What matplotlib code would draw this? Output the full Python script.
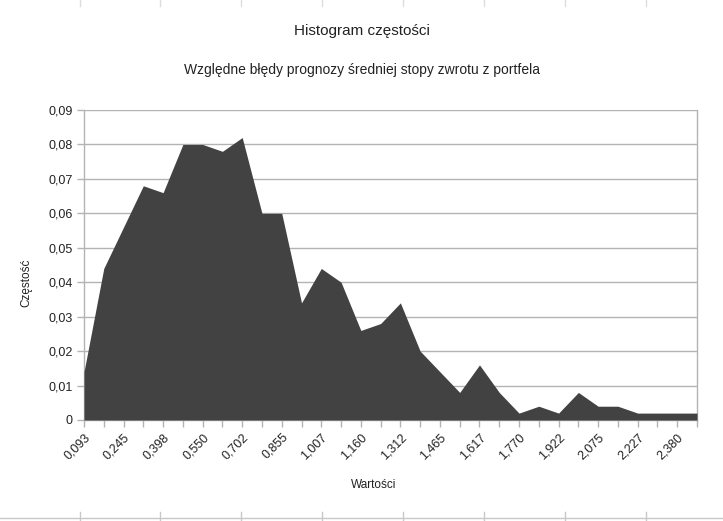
import numpy as np
import matplotlib.pyplot as plt
from matplotlib.lines import Line2D

plt.rcParams['font.family'] = ['Liberation Sans', 'DejaVu Sans']

# bin starts (every other one is labelled) and relative frequencies
bin_labels = ['0,093', '0,245', '0,398', '0,550', '0,702', '0,855', '1,007', '1,160',
              '1,312', '1,465', '1,617', '1,770', '1,922', '2,075', '2,227', '2,380']
freq = [0.014, 0.044, 0.056, 0.068, 0.066, 0.080, 0.080, 0.078,
        0.082, 0.060, 0.060, 0.034, 0.044, 0.040, 0.026, 0.028,
        0.034, 0.020, 0.014, 0.008, 0.016, 0.008, 0.002, 0.004,
        0.002, 0.008, 0.004, 0.004, 0.002, 0.002, 0.002, 0.002]
y_ticks = [0.0, 0.01, 0.02, 0.03, 0.04, 0.05, 0.06, 0.07, 0.08, 0.09]
y_tick_labels = ['0', '0,01', '0,02', '0,03', '0,04', '0,05', '0,06', '0,07', '0,08', '0,09']

grid_col = '#b3b3b3'
fill_col = '#424242'
text_col = '#222222'

fig = plt.figure(figsize=(7.23, 5.21), dpi=100)
ax = fig.add_axes([84 / 723, 101 / 521, 613 / 723, 310 / 521])

x = np.arange(len(freq))
ax.fill_between(x, freq, 0, color=fill_col, linewidth=0, zorder=3)

ax.set_xlim(0, len(freq) - 1)
ax.set_ylim(0, 0.09)

ax.set_yticks(y_ticks)
ax.set_yticklabels(y_tick_labels)
ax.grid(axis='y', color=grid_col, linewidth=1, zorder=0)

ax.set_xticks(x)
ax.set_xticklabels([bin_labels[i // 2] if i % 2 == 0 else '' for i in x],
                   rotation=45, ha='right', va='top', rotation_mode='anchor')

ax.tick_params(axis='both', direction='out', length=5, width=1, color=grid_col,
               labelsize=9, labelcolor=text_col, pad=3)

ax.spines['top'].set_visible(False)
for side in ['left', 'right', 'bottom']:
    ax.spines[side].set_color(grid_col)
    ax.spines[side].set_linewidth(1)

ax.set_xlabel('Wartości', fontsize=8.5, color=text_col)
ax.xaxis.set_label_coords((374 - 84) / 613, -(479 - 420) / 310)
ax.set_ylabel('Częstość', fontsize=8.5, color=text_col, va='center')
ax.yaxis.set_label_coords((26 - 84) / 613, (420 - 283) / 310)

fig.text(362 / 723, 1 - 31 / 521, 'Histogram częstości', ha='center', va='center',
         fontsize=11, color=text_col)
fig.text(362 / 723, 1 - 70 / 521, 'Względne błędy prognozy średniej stopy zwrotu z portfela',
         ha='center', va='center', fontsize=10, color=text_col)

# spreadsheet column marks along the edges
fig.add_artist(Line2D([0, 1], [3 / 521, 3 / 521], color='#c8c8c8', linewidth=1))
for px in [80, 160, 241, 322, 403, 484, 565, 646]:
    fig.add_artist(Line2D([px / 723, px / 723], [0, 9 / 521], color='#c8c8c8', linewidth=1))
    fig.add_artist(Line2D([px / 723, px / 723], [1 - 6 / 521, 1], color='#dddddd', linewidth=1))

fig.savefig('out.png', dpi=100)
